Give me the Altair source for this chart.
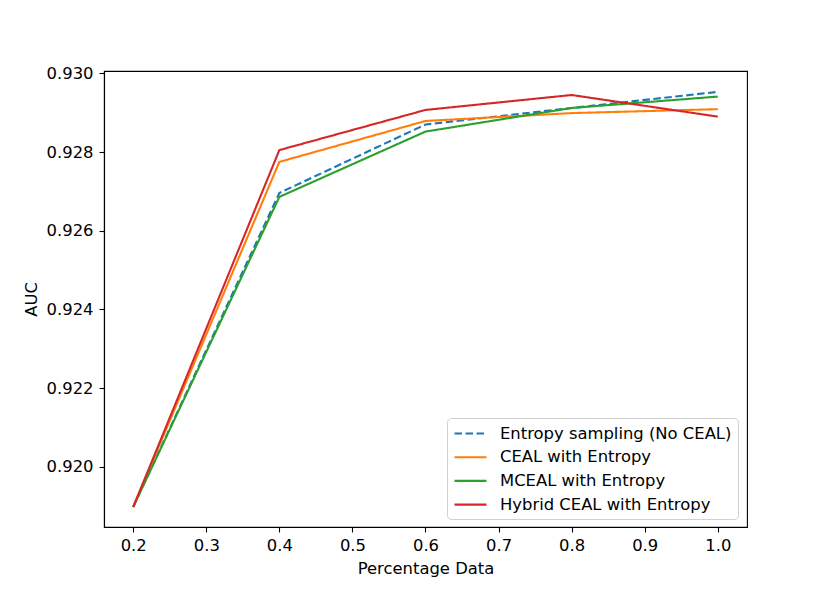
import altair as alt
import pandas as pd

x_vals = [0.2, 0.4, 0.6, 0.8, 1.0]
entropy = [0.91898, 0.92696, 0.92870, 0.92912, 0.92953]
ceal = [0.91898, 0.92775, 0.92879, 0.92899, 0.92909]
mceal = [0.91898, 0.92686, 0.92852, 0.92912, 0.92941]
hybrid = [0.91898, 0.92805, 0.92907, 0.92945, 0.92890]

series_names = ["Entropy sampling (No CEAL)", "CEAL with Entropy",
                "MCEAL with Entropy", "Hybrid CEAL with Entropy"]
series_vals = [entropy, ceal, mceal, hybrid]
colors = ["#1f77b4", "#ff7f0e", "#2ca02c", "#d62728"]
dashes = [[7.5, 3.5], [1, 0], [1, 0], [1, 0]]

x_ticks = [0.2, 0.3, 0.4, 0.5, 0.6, 0.7, 0.8, 0.9, 1.0]
y_ticks = [0.920, 0.922, 0.924, 0.926, 0.928, 0.930]

rows = []
for i, (name, vals) in enumerate(zip(series_names, series_vals)):
    for xv, yv in zip(x_vals, vals):
        rows.append({"x": xv, "AUC": yv, "series": name, "order": i})
df = pd.DataFrame(rows)

FONT = "DejaVu Sans"
FS = 16.4

chart = alt.Chart(df).mark_line(strokeWidth=2.1, clip=True).encode(
    x=alt.X("x:Q", title="Percentage Data",
            scale=alt.Scale(domain=[0.16, 1.04], nice=False, zero=False),
            axis=alt.Axis(values=x_ticks, format=".1f", labelPadding=5)),
    y=alt.Y("AUC:Q", title="AUC",
            scale=alt.Scale(domain=[0.91847, 0.93006], nice=False, zero=False),
            axis=alt.Axis(values=y_ticks, format=".3f", labelPadding=6)),
    color=alt.Color("series:N", title=None,
                    scale=alt.Scale(domain=series_names, range=colors),
                    legend=alt.Legend(orient="none", legendX=343, legendY=347,
                                      symbolType="M-2,0H2", symbolSize=256,
                                      symbolStrokeWidth=2.1, symbolOffset=8,
                                      labelOffset=20,
                                      rowPadding=5.7, padding=6,
                                      strokeColor="#d0d0d0", fillColor="white",
                                      cornerRadius=4, labelFontSize=FS,
                                      labelFont=FONT, labelColor="black",
                                      labelLimit=400)),
    strokeDash=alt.StrokeDash("series:N", title=None,
                              scale=alt.Scale(domain=series_names, range=dashes),
                              legend=None),
    order=alt.Order("order:Q"),
).properties(
    width=643, height=456,
    padding={"left": 96, "top": 63, "right": 75, "bottom": 58},
    autosize=alt.AutoSizeParams(type="none"),
).configure_view(
    stroke="black", strokeWidth=1.1
).configure_axis(
    grid=False, domainColor="black", tickColor="black", labelColor="black",
    titleColor="black", labelFont=FONT, titleFont=FONT, labelFontSize=FS,
    titleFontSize=FS, titleFontWeight="normal", tickSize=5,
    domainWidth=1.1, tickWidth=1.1
).configure_axisX(titlePadding=7).configure_axisY(titlePadding=7)

chart.save("out.html", embed_options={"renderer": "svg", "actions": False})
